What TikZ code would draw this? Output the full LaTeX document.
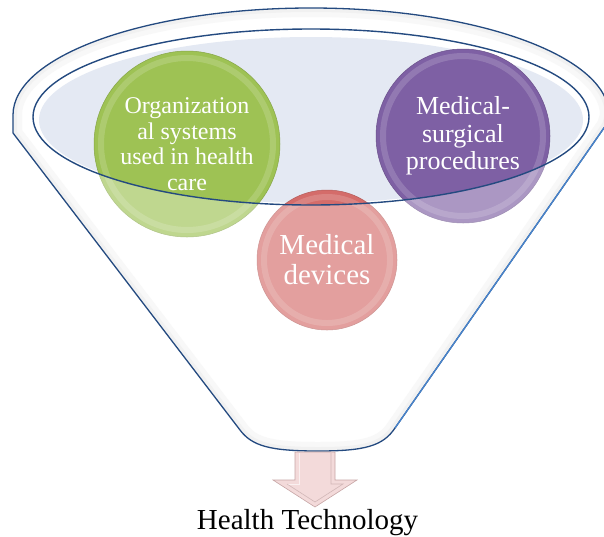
\documentclass[tikz,border=0pt]{standalone}
\usepackage{fontspec}
\setmainfont{Liberation Serif}
\definecolor{navy}{RGB}{36,74,128}
\definecolor{ltblue}{RGB}{72,132,204}
\definecolor{fillblue}{RGB}{228,233,243}
\definecolor{grn}{RGB}{158,194,84}
\definecolor{prp}{RGB}{126,96,164}
\definecolor{rd}{RGB}{212,108,106}
\definecolor{arrowpink}{RGB}{243,218,218}
\definecolor{arrowedge}{RGB}{198,165,165}
\begin{document}
\begin{tikzpicture}[x=1pt,y=-1pt,
  ball/.style={circle, fill=#1, draw=#1!85!black, line width=0.5pt, inner sep=0pt, text=white, align=center},
  ring/.style={line width=6pt, white, opacity=0.16},
  funnelline/.style={draw=navy, line width=1.3pt, line join=round},
]
\useasboundingbox (0,0) rectangle (604,536);
\def\funnelpth{(13,122) -- (13,115) arc[start angle=180,end angle=360,x radius=298,y radius=107] -- (606,125) -- (395,428) .. controls (383,446) and (365,451) .. (318,451) .. controls (270,451) and (252,446) .. (240,430) -- (13,133) -- cycle}
% funnel body
\fill[white] \funnelpth;
\begin{scope}
  \clip \funnelpth;
  \draw[line width=18pt, black!4] \funnelpth;
  \draw[line width=8pt, black!8] \funnelpth;
\end{scope}
% inner ellipse fill
\fill[fillblue] (311,120) ellipse[x radius=272, y radius=83];
% circles
\node[ball=grn, minimum size=186pt, font=\fontsize{24}{25.5}\selectfont] (org) at (187,144) {Organization\\al systems\\used in health\\care};
\node[ball=prp, minimum size=174pt, font=\fontsize{26}{27.5}\selectfont] (med) at (463,136) {Medical-\\surgical\\procedures};
\node[ball=rd, minimum size=140pt, font=\fontsize{29}{30}\selectfont] (dev) at (327,260) {Medical\\devices};
\draw[ring] (org.center) circle[radius=86pt];
\draw[ring] (med.center) circle[radius=80pt];
\draw[ring] (dev.center) circle[radius=63pt];
% translucent front of the funnel
\fill[white, opacity=0.35, even odd rule] (0,0) rectangle (604,536) (311,117) ellipse[x radius=278, y radius=88];
% outlines
\draw[funnelline] \funnelpth;
\draw[ltblue, line width=1.3pt] (606,125) -- (395,428);
\draw[navy, line width=1.4pt] (311,117) ellipse[x radius=278, y radius=88];
% arrow
\coordinate (atop) at (315,452);
\filldraw[fill=arrowpink, draw=arrowedge, line width=0.6pt] (295,452) -- (335,452) -- (335,480) -- (357,480) -- (315,507) -- (273,480) -- (295,480) -- cycle;
\draw[white, opacity=0.6, line width=0.8pt] (299,453) -- (299,484) -- (287,484);
\draw[arrowedge!80, line width=0.6pt] (331,453) -- (331,484) -- (343,484) -- (315,502) -- (287,484);
\node[font=\fontsize{29}{30}\selectfont, anchor=base] (ht) at (307.5,529) {Health Technology};
\end{tikzpicture}
\end{document}
